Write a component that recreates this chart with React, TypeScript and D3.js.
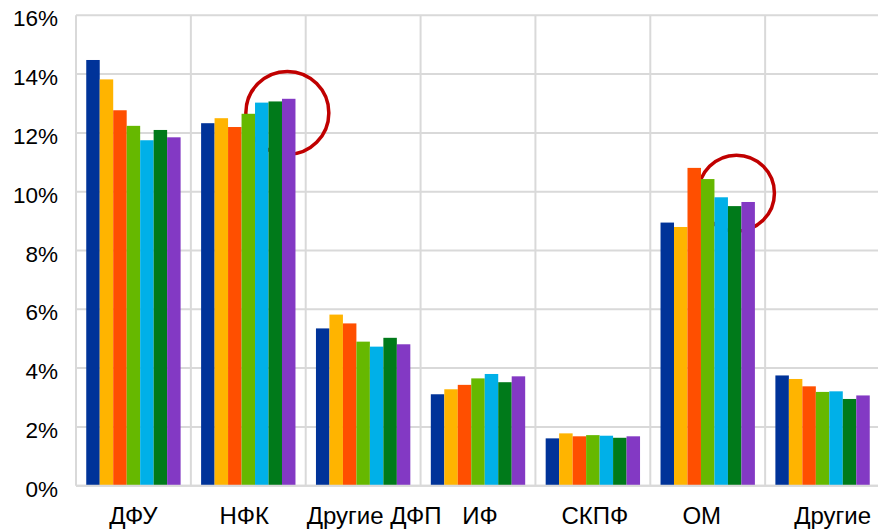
import React from "react";
import * as d3 from "d3";

const categories = ["ДФУ", "НФК", "Другие ДФП", "ИФ", "СКПФ", "ОМ", "Другие"];
const series1 = [14.48, 12.33, 5.35, 3.11, 1.61, 8.95, 3.75];
const series2 = [13.82, 12.5, 5.82, 3.28, 1.78, 8.8, 3.63];
const series3 = [12.77, 12.2, 5.52, 3.43, 1.68, 10.81, 3.38];
const series4 = [12.24, 12.65, 4.9, 3.65, 1.72, 10.43, 3.19];
const series5 = [11.75, 13.03, 4.73, 3.8, 1.7, 9.81, 3.21];
const series6 = [12.1, 13.07, 5.03, 3.52, 1.63, 9.51, 2.95];
const series7 = [11.85, 13.16, 4.81, 3.72, 1.68, 9.65, 3.07];
const yTicks = [0, 2, 4, 6, 8, 10, 12, 14, 16];
const highlightCategories = ["НФК", "ОМ"];
const highlightValues = [12.68, 9.95];

const allSeries = [series1, series2, series3, series4, series5, series6, series7];
const colors = ["#003399", "#FFB400", "#FF4F00", "#66B800", "#00B0E8", "#007A1A", "#8339C4"];

export default function App() {
  const W = 878;
  const H = 529;
  const left = 76;
  const right = 878 + 2;
  const top = 15.3;
  const bottom = 485.7;

  const x = d3.scaleBand<string>().domain(categories).range([left, right]).paddingInner(0).paddingOuter(0);
  const inner = d3
    .scaleBand<number>()
    .domain(d3.range(allSeries.length))
    .range([0, x.bandwidth()])
    .paddingOuter(0.76)
    .paddingInner(0);
  const y = d3.scaleLinear().domain([0, 16]).range([bottom, top]);

  const labelNudge = [0, -4, 11, 2, 2, -6, 10];
  const circleFrac = [0.84, 0.75];
  const circleR = [41.5, 38];

  const font = "'Liberation Sans', Arial, sans-serif";

  return (
    <svg width={W} height={H} style={{ position: "absolute", left: 0, top: 0, background: "#fff" }}>
      {yTicks.map((t) => (
        <line key={"h" + t} x1={left} x2={W} y1={y(t)} y2={y(t)} stroke="#D9D9D9" strokeWidth={2} />
      ))}
      {categories.map((c) => (
        <line key={"v" + c} x1={x(c)!} x2={x(c)!} y1={top} y2={bottom} stroke="#D9D9D9" strokeWidth={2} />
      ))}
      {highlightCategories.map((c, i) => (
        <circle
          key={"c" + c}
          cx={x(c)! + x.bandwidth() * circleFrac[i]}
          cy={y(highlightValues[i])}
          r={circleR[i]}
          fill="none"
          stroke="#C00000"
          strokeWidth={3.5}
        />
      ))}
      {allSeries.map((s, si) =>
        s.map((v, ci) => (
          <rect
            key={`b${si}-${ci}`}
            x={x(categories[ci])! + inner(si)!}
            y={y(v)}
            width={inner.bandwidth()}
            height={y(0) - y(v)}
            fill={colors[si]}
          />
        ))
      )}
      <line x1={left} x2={W} y1={y(0)} y2={y(0)} stroke="#D9D9D9" strokeWidth={2} />
      {yTicks.map((t) => (
        <text
          key={"yl" + t}
          x={58}
          y={y(t) + 11}
          textAnchor="end"
          fontFamily={font}
          fontSize={22.5}
          fill="#000"
        >
          {t + "%"}
        </text>
      ))}
      {categories.map((c, i) => (
        <text
          key={"xl" + c}
          x={x(c)! + x.bandwidth() / 2 + labelNudge[i]}
          y={524}
          textAnchor="middle"
          fontFamily={font}
          fontSize={24}
          fill="#000"
        >
          {c}
        </text>
      ))}
    </svg>
  );
}
